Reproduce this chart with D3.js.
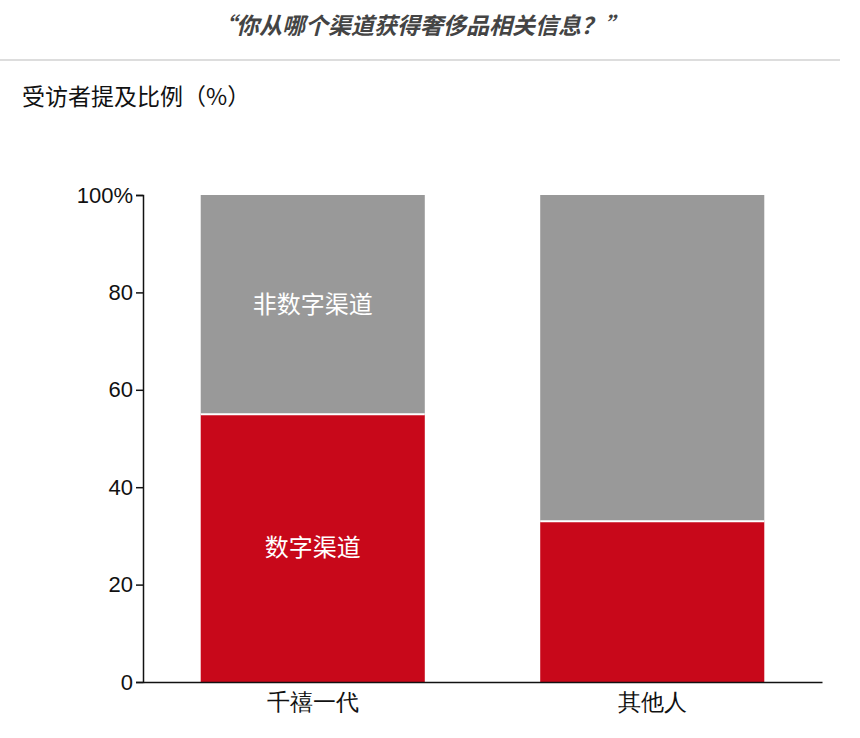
<!DOCTYPE html>
<html><head><meta charset="utf-8">
<script src="https://cdn.jsdelivr.net/npm/d3@7"></script>
<style>body{margin:0;background:#fff;font-family:"Noto Sans CJK SC","Liberation Sans",sans-serif;}</style>
</head><body><svg id="c" width="860" height="738"></svg>
<script>
const categories = ['千禧一代', '其他人'];
const digital = [55, 33];
const nonDigital = [45, 67];
const yTicks = [0, 20, 40, 60, 80, 100];
const segLabels = ['数字渠道', '非数字渠道'];

const svg = d3.select('#c');
const x = d3.scaleBand().domain(categories).range([143, 822]).paddingInner(0.34).paddingOuter(0.17);
const y = d3.scaleLinear().domain([0, 100]).range([682, 195]);

svg.append('text').attr('x', 420).attr('y', 34).attr('text-anchor', 'middle')
  .attr('font-size', 23).attr('font-weight', 'bold').attr('font-style', 'italic').attr('fill', '#444')
  .text('“你从哪个渠道获得奢侈品相关信息？”');
svg.append('line').attr('x1', 0).attr('x2', 840).attr('y1', 60).attr('y2', 60).attr('stroke', '#bbb');
svg.append('text').attr('x', 22).attr('y', 105).attr('font-size', 23).attr('fill', '#111')
  .text('受访者提及比例（%）');

const g = svg.append('g');
categories.forEach((c, i) => {
  g.append('rect').attr('x', x(c)).attr('width', x.bandwidth())
    .attr('y', y(digital[i])).attr('height', y(0) - y(digital[i])).attr('fill', '#c8081a');
  g.append('rect').attr('x', x(c)).attr('width', x.bandwidth())
    .attr('y', y(digital[i] + nonDigital[i])).attr('height', y(digital[i]) - y(digital[i] + nonDigital[i]))
    .attr('fill', '#999');
  g.append('line').attr('x1', x(c)).attr('x2', x(c) + x.bandwidth())
    .attr('y1', y(digital[i])).attr('y2', y(digital[i])).attr('stroke', '#fff').attr('stroke-width', 2);
});
const c0 = categories[0];
g.append('text').attr('x', x(c0) + x.bandwidth() / 2).attr('y', y(digital[0] / 2) + 8)
  .attr('text-anchor', 'middle').attr('font-size', 24).attr('fill', '#fff').text(segLabels[0]);
g.append('text').attr('x', x(c0) + x.bandwidth() / 2).attr('y', y(digital[0] + nonDigital[0] / 2) + 8)
  .attr('text-anchor', 'middle').attr('font-size', 24).attr('fill', '#fff').text(segLabels[1]);

const ya = svg.append('g').attr('transform', 'translate(143,0)')
  .call(d3.axisLeft(y).tickValues(yTicks).tickSize(7).tickFormat(d => d === 100 ? '100%' : d));
ya.selectAll('text').attr('font-size', 22).attr('fill', '#111').attr('font-family', '"Liberation Sans",sans-serif');
ya.select('.domain').attr('stroke', '#111').attr('stroke-width', 1.5);
ya.selectAll('.tick line').attr('stroke', '#111').attr('stroke-width', 1.5);

const xa = svg.append('g').attr('transform', 'translate(0,682)')
  .call(d3.axisBottom(x).tickSize(0).tickSizeOuter(0));
xa.select('.domain').attr('stroke', '#111').attr('stroke-width', 1.5);
xa.selectAll('text').attr('font-size', 23).attr('fill', '#111').attr('dy', '1.1em');
</script></body></html>
